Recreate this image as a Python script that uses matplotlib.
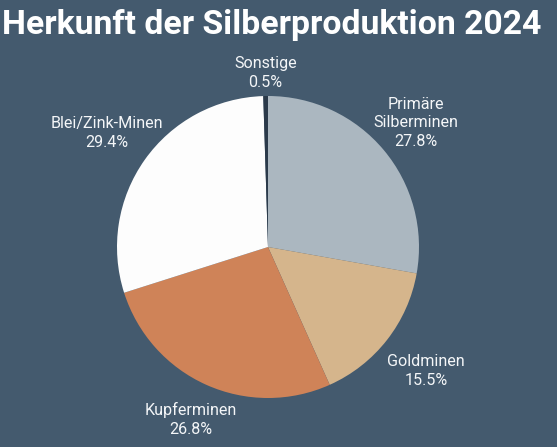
import numpy as np
import matplotlib.pyplot as plt

labels = ["Primäre\nSilberminen", "Goldminen", "Kupferminen", "Blei/Zink-Minen", "Sonstige"]
shares = [27.8, 15.5, 26.8, 29.4, 0.5]
colors = ["#abb7c0", "#d5b58c", "#cf8358", "#fdfdfd", "#2b3a4a"]

bg = "#445a6e"
plt.rcParams["font.family"] = ["Roboto", "DejaVu Sans"]

fig = plt.figure(figsize=(5.57, 4.47), dpi=100, facecolor=bg)
ax = fig.add_axes([0, 0, 1, 1])
ax.set_facecolor(bg)

cx, cy, r = 268, 200, 151
wedges, _ = ax.pie(shares, colors=colors, startangle=90, counterclock=False,
                   center=(cx, cy), radius=r, wedgeprops=dict(linewidth=0))

# label distance per slice (in units of the radius)
dist = [1.28, 1.33, 1.25, 1.31, 1.15]
for w, lab, val, d in zip(wedges, labels, shares, dist):
    ang = np.deg2rad((w.theta1 + w.theta2) / 2)
    x = cx + d * r * np.cos(ang)
    y = cy + d * r * np.sin(ang)
    ax.text(x, y, f"{lab}\n{val:.1f}%", ha="center", va="center",
            color="#f4f6f8", fontsize=11.6, linespacing=1.32)

ax.set_xlim(0, 557)
ax.set_ylim(0, 447)
ax.set_aspect("equal")
ax.axis("off")

fig.text(0.487, 0.944, "Herkunft der Silberproduktion 2024", ha="center", va="center",
         color="white", fontsize=24.3, fontweight="bold")

fig.savefig("out.png", facecolor=bg)
